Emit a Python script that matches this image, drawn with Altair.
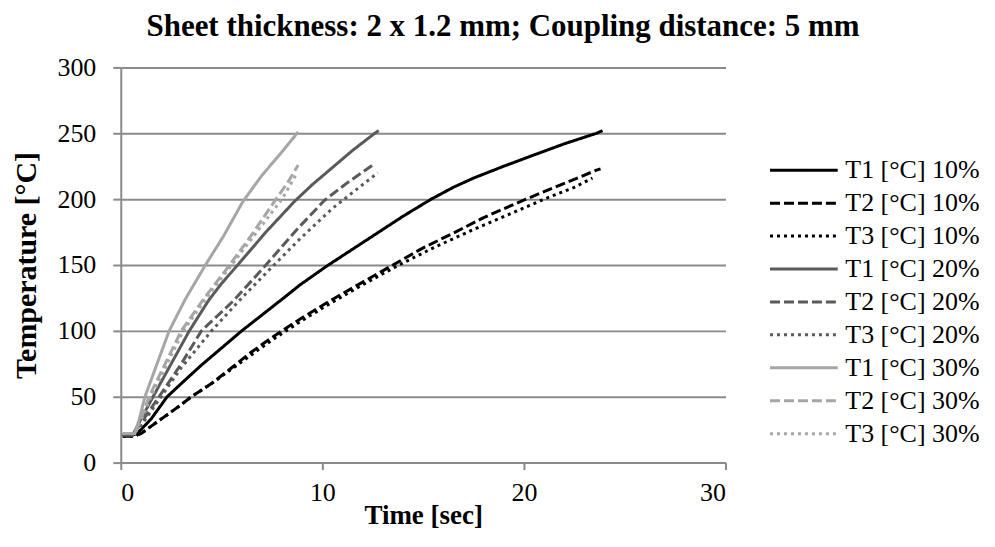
import altair as alt
import pandas as pd

# ---- data ----
series_names = ["T1 [°C] 10%", "T2 [°C] 10%", "T3 [°C] 10%",
                "T1 [°C] 20%", "T2 [°C] 20%", "T3 [°C] 20%",
                "T1 [°C] 30%", "T2 [°C] 30%", "T3 [°C] 30%"]
series_colors = ["#000000", "#000000", "#000000",
                 "#5a5a5a", "#5a5a5a", "#5a5a5a",
                 "#a6a6a6", "#a6a6a6", "#a6a6a6"]
series_dash = [[1, 0], [10, 4], [3, 4],
               [1, 0], [10, 4], [3, 4],
               [1, 0], [10, 4], [3, 4]]

t1_10_time = [0.1, 0.6, 0.8, 1.0, 1.5, 2.3, 3.0, 4.0, 5.0, 6.0, 7.0, 8.0, 8.9, 10.2, 11.0, 12.0, 13.0, 14.0, 15.4, 16.5, 17.5, 19.0, 20.4, 22.0, 23.6, 23.9]
t1_10_temp = [21, 21, 22, 25, 33, 50, 60, 74, 87, 100, 112, 124, 135, 149, 157, 167, 177, 187, 200, 209, 216, 225, 233, 242, 250, 252]

t2_10_time = [0.1, 0.6, 1.0, 2.0, 3.0, 3.5, 4.5, 5.5, 6.4, 7.5, 8.9, 10.4, 12.0, 13.5, 15.0, 16.6, 18.0, 20.1, 22.0, 23.6, 23.8]
t2_10_temp = [20, 20, 22, 33, 44, 50, 60, 72, 83, 95, 109, 123, 137, 150, 163, 175, 186, 200, 212, 222, 223]

t3_10_time = [0.1, 0.6, 1.0, 2.0, 3.0, 3.5, 4.5, 5.5, 6.5, 7.5, 8.9, 10.4, 12.0, 13.8, 15.5, 17.5, 19.5, 21.0, 22.5, 23.4]
t3_10_temp = [20, 20, 22, 33, 44, 50, 60, 71, 82, 93, 107, 121, 135, 150, 163, 177, 190, 200, 209, 216]

t1_20_time = [0.1, 0.6, 0.9, 1.6, 2.5, 3.4, 4.35, 5.0, 5.8, 7.2, 8.6, 9.5, 10.5, 11.5, 12.6, 12.8]
t1_20_temp = [21, 21, 30, 50, 75, 100, 123, 136, 150, 175, 198, 211, 224, 237, 250, 252]

t2_20_time = [0.1, 0.6, 1.0, 1.9, 3.0, 4.0, 5.6, 7.2, 8.8, 10.1, 11.2, 12.6]
t2_20_temp = [21, 21, 30, 50, 75, 100, 123, 150, 178, 199, 212, 227]

t3_20_time = [0.1, 0.6, 1.0, 2.0, 3.0, 4.5, 6.0, 7.6, 8.9, 10.5, 11.5, 12.75]
t3_20_temp = [21, 21, 28, 50, 72, 100, 125, 150, 170, 193, 205, 220]

t1_30_time = [0.1, 0.7, 0.9, 1.2, 1.8, 2.4, 3.2, 4.2, 5.1, 6.05, 7.0, 8.0, 8.8]
t1_30_temp = [22, 22, 32, 50, 75, 100, 124, 150, 172, 198, 218, 236, 251]

t2_30_time = [0.1, 0.7, 1.0, 1.4, 2.2, 3.0, 4.1, 5.4, 6.5, 7.7, 8.3, 8.8]
t2_30_temp = [22, 22, 33, 50, 75, 100, 124, 150, 173, 200, 213, 226]

t3_30_time = [0.1, 0.7, 1.0, 1.5, 2.3, 3.1, 4.2, 5.5, 6.6, 8.0, 8.75]
t3_30_temp = [22, 22, 32, 50, 75, 100, 124, 150, 172, 200, 220]

x_ticks = [0, 10, 20, 30]
y_ticks = [0, 50, 100, 150, 200, 250, 300]

all_series = [
    (t1_10_time, t1_10_temp), (t2_10_time, t2_10_temp), (t3_10_time, t3_10_temp),
    (t1_20_time, t1_20_temp), (t2_20_time, t2_20_temp), (t3_20_time, t3_20_temp),
    (t1_30_time, t1_30_temp), (t2_30_time, t2_30_temp), (t3_30_time, t3_30_temp),
]

rows = []
for idx, (name, (ts, vs)) in enumerate(zip(series_names, all_series)):
    for i, (t, v) in enumerate(zip(ts, vs)):
        rows.append({"series": name, "order": idx, "i": i, "time": t, "temp": v})
df = pd.DataFrame(rows)

FONT = "Liberation Serif"
GRID = "#8a8a8a"

legend = alt.Legend(
    title=None, orient="none", legendX=649, legendY=89,
    symbolType="stroke", symbolSize=4600, symbolStrokeWidth=3,
    labelFont=FONT, labelFontSize=26, labelColor="#000000",
    labelOffset=6, clipHeight=28, rowPadding=5, labelLimit=300,
)

chart = alt.Chart(df).mark_line(strokeWidth=3, strokeCap="butt").encode(
    x=alt.X("time:Q", scale=alt.Scale(domain=[0, 30], nice=False),
            axis=alt.Axis(title="Time [sec]", values=x_ticks, format="d",
                          grid=False, tickSize=7, labelPadding=10,
                          titlePadding=-3,
                          labelFont=FONT, labelFontSize=26, labelColor="#000000",
                          titleFont=FONT, titleFontSize=27, titleFontWeight="bold",
                          titleColor="#000000",
                          domainColor=GRID, domainWidth=2, tickColor=GRID, tickWidth=2)),
    y=alt.Y("temp:Q", scale=alt.Scale(domain=[0, 300], nice=False),
            axis=alt.Axis(title="Temperature [°C]", values=y_ticks, format="d",
                          grid=True, tickSize=8, labelPadding=17,
                          titleX=-94, titleY=198, titleAlign="center",
                          titleBaseline="middle", titleAngle=270,
                          labelFont=FONT, labelFontSize=26, labelColor="#000000",
                          titleFont=FONT, titleFontSize=30, titleFontWeight="bold",
                          titleColor="#000000",
                          domainColor=GRID, domainWidth=2, tickColor=GRID, tickWidth=2,
                          gridColor=GRID, gridWidth=2)),
    color=alt.Color("series:N", scale=alt.Scale(domain=series_names, range=series_colors),
                    legend=legend, sort=series_names),
    strokeDash=alt.StrokeDash("series:N", scale=alt.Scale(domain=series_names, range=series_dash),
                              legend=legend, sort=series_names),
    detail="series:N",
    order="i:Q",
).properties(
    width=606, height=396,
    background="white",
    autosize=alt.AutoSizeParams(type="none"),
    padding={"left": 113, "top": 59, "right": 262, "bottom": 70},
    title=alt.TitleParams(
        "Sheet thickness: 2 x 1.2 mm; Coupling distance: 5 mm",
        font=FONT, fontSize=31, fontWeight="bold", color="#000000",
        anchor="middle", dx=80, offset=11,
    ),
).configure_view(stroke=None).configure_legend(
    labelFont=FONT, labelFontSize=26, labelColor="#000000"
)

chart.save("out.html", embed_options={"renderer": "svg", "actions": False})
